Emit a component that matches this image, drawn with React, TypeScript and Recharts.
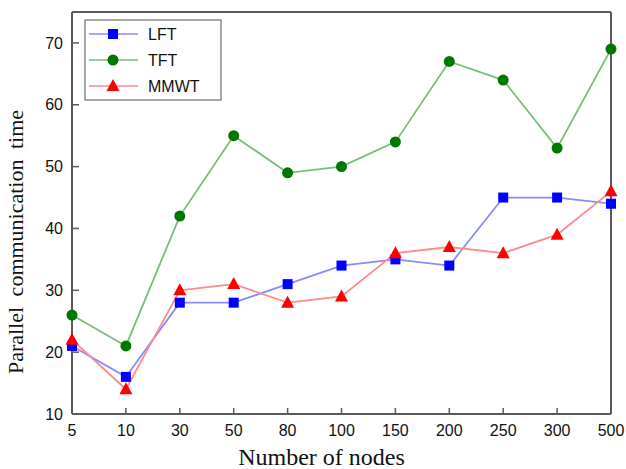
import { LineChart, Line, XAxis, YAxis, ReferenceLine, Legend, Label } from 'recharts';

const NODES = ['5', '10', '30', '50', '80', '100', '150', '200', '250', '300', '500'];
const LFT = [21, 16, 28, 28, 31, 34, 35, 34, 45, 45, 44];
const TFT = [26, 21, 42, 55, 49, 50, 54, 67, 64, 53, 69];
const MMWT = [22, 14, 30, 31, 28, 29, 36, 37, 36, 39, 46];
const Y_TICKS = [10, 20, 30, 40, 50, 60, 70];

const data = NODES.map((n, i) => ({ n, LFT: LFT[i], TFT: TFT[i], MMWT: MMWT[i] }));

const FRAME = '#5a5a5a';
const TICK_FONT = '"Liberation Sans", Arial, sans-serif';
const LABEL_FONT = '"Liberation Serif", "Times New Roman", serif';

const SERIES = [
  { key: 'LFT', line: '#8a8aff', mark: '#0000ff', shape: 'square' },
  { key: 'TFT', line: '#79bd79', mark: '#007800', shape: 'circle' },
  { key: 'MMWT', line: '#ff8a8a', mark: '#ff0000', shape: 'triangle' },
];

function Marker({ cx, cy, shape, color }: any) {
  if (cx == null || cy == null) return null;
  if (shape === 'square') return <rect x={cx - 5} y={cy - 5} width={10} height={10} fill={color} />;
  if (shape === 'circle') return <circle cx={cx} cy={cy} r={5.5} fill={color} />;
  return <polygon points={`${cx},${cy - 7} ${cx - 6.5},${cy + 5} ${cx + 6.5},${cy + 5}`} fill={color} />;
}

function YTick({ x, y, payload }: any) {
  const ax = x + 9;
  return (
    <g>
      <line x1={ax} x2={ax + 7} y1={y} y2={y} stroke={FRAME} strokeWidth={1.5} />
      <text x={x} y={y} dy="0.35em" textAnchor="end" fontSize={16} fontFamily={TICK_FONT} fill="#111">
        {payload.value}
      </text>
    </g>
  );
}

function XTick({ x, y, payload }: any) {
  const ay = y - 11;
  return (
    <g>
      <line x1={x} x2={x} y1={ay} y2={ay - 6} stroke={FRAME} strokeWidth={1.5} />
      <text x={x} y={y} dy="0.71em" textAnchor="middle" fontSize={16} fontFamily={TICK_FONT} fill="#111">
        {payload.value}
      </text>
    </g>
  );
}

function LegendBox() {
  return (
    <svg width={138} height={82} style={{ display: 'block' }}>
      <rect x={1} y={1} width={136} height={80} fill="#fff" stroke="#8c8c8c" strokeWidth={1.5} />
      {SERIES.map((s, i) => {
        const cy = 15 + i * 26;
        return (
          <g key={s.key}>
            <line x1={5} x2={54} y1={cy} y2={cy} stroke={s.line} strokeWidth={1.5} />
            <Marker cx={29} cy={cy} shape={s.shape} color={s.mark} />
            <text x={64} y={cy} dy="0.36em" fontSize={16} fontFamily={TICK_FONT} fill="#111">
              {s.key}
            </text>
          </g>
        );
      })}
    </svg>
  );
}

export default function App() {
  return (
    <div style={{ position: 'absolute', left: 0, top: 0, background: '#fff' }}>
      <LineChart width={626} height={469} data={data} margin={{ top: 12, right: 15, bottom: 0, left: 0 }}>
        <XAxis
          dataKey="n"
          scale="point"
          padding={{ left: 0, right: 0 }}
          height={55}
          tickSize={0}
          tickMargin={11}
          tickLine={false}
          tick={<XTick />}
          interval={0}
          axisLine={{ stroke: FRAME, strokeWidth: 2 }}
        >
          <Label
            content={({ viewBox }: any) => (
              <text
                x={viewBox.x + viewBox.width / 2 - 20}
                y={viewBox.y + 51}
                textAnchor="middle"
                fontSize={24}
                fontFamily={LABEL_FONT}
                fill="#111"
              >
                Number of nodes
              </text>
            )}
          />
        </XAxis>
        <YAxis
          type="number"
          domain={[10, 75]}
          ticks={Y_TICKS}
          width={72}
          tickSize={0}
          tickMargin={9}
          tickLine={false}
          tick={<YTick />}
          axisLine={{ stroke: FRAME, strokeWidth: 2 }}
        >
          <Label
            content={({ viewBox }: any) => {
              const cx = 15;
              const cy = viewBox.y + viewBox.height / 2 + 29;
              return (
                <text
                  x={cx}
                  y={cy}
                  transform={`rotate(-90 ${cx} ${cy})`}
                  textAnchor="middle"
                  dy="0.35em"
                  fontSize={22}
                  wordSpacing={5}
                  fontFamily={LABEL_FONT}
                  fill="#111"
                >
                  Parallel communication time
                </text>
              );
            }}
          />
        </YAxis>
        <ReferenceLine y={75} stroke={FRAME} strokeWidth={2} />
        <ReferenceLine x="500" stroke={FRAME} strokeWidth={2} />
        <Legend
          layout="vertical"
          align="center"
          verticalAlign="middle"
          content={() => <LegendBox />}
          wrapperStyle={{ position: 'absolute', left: 84, top: 19, width: 138, height: 82 }}
        />
        {SERIES.map((s) => (
          <Line
            key={s.key}
            type="linear"
            dataKey={s.key}
            stroke={s.line}
            strokeWidth={1.8}
            isAnimationActive={false}
            dot={(p: any) => <Marker key={`${s.key}-${p.index}`} cx={p.cx} cy={p.cy} shape={s.shape} color={s.mark} />}
            activeDot={false}
          />
        ))}
      </LineChart>
    </div>
  );
}
